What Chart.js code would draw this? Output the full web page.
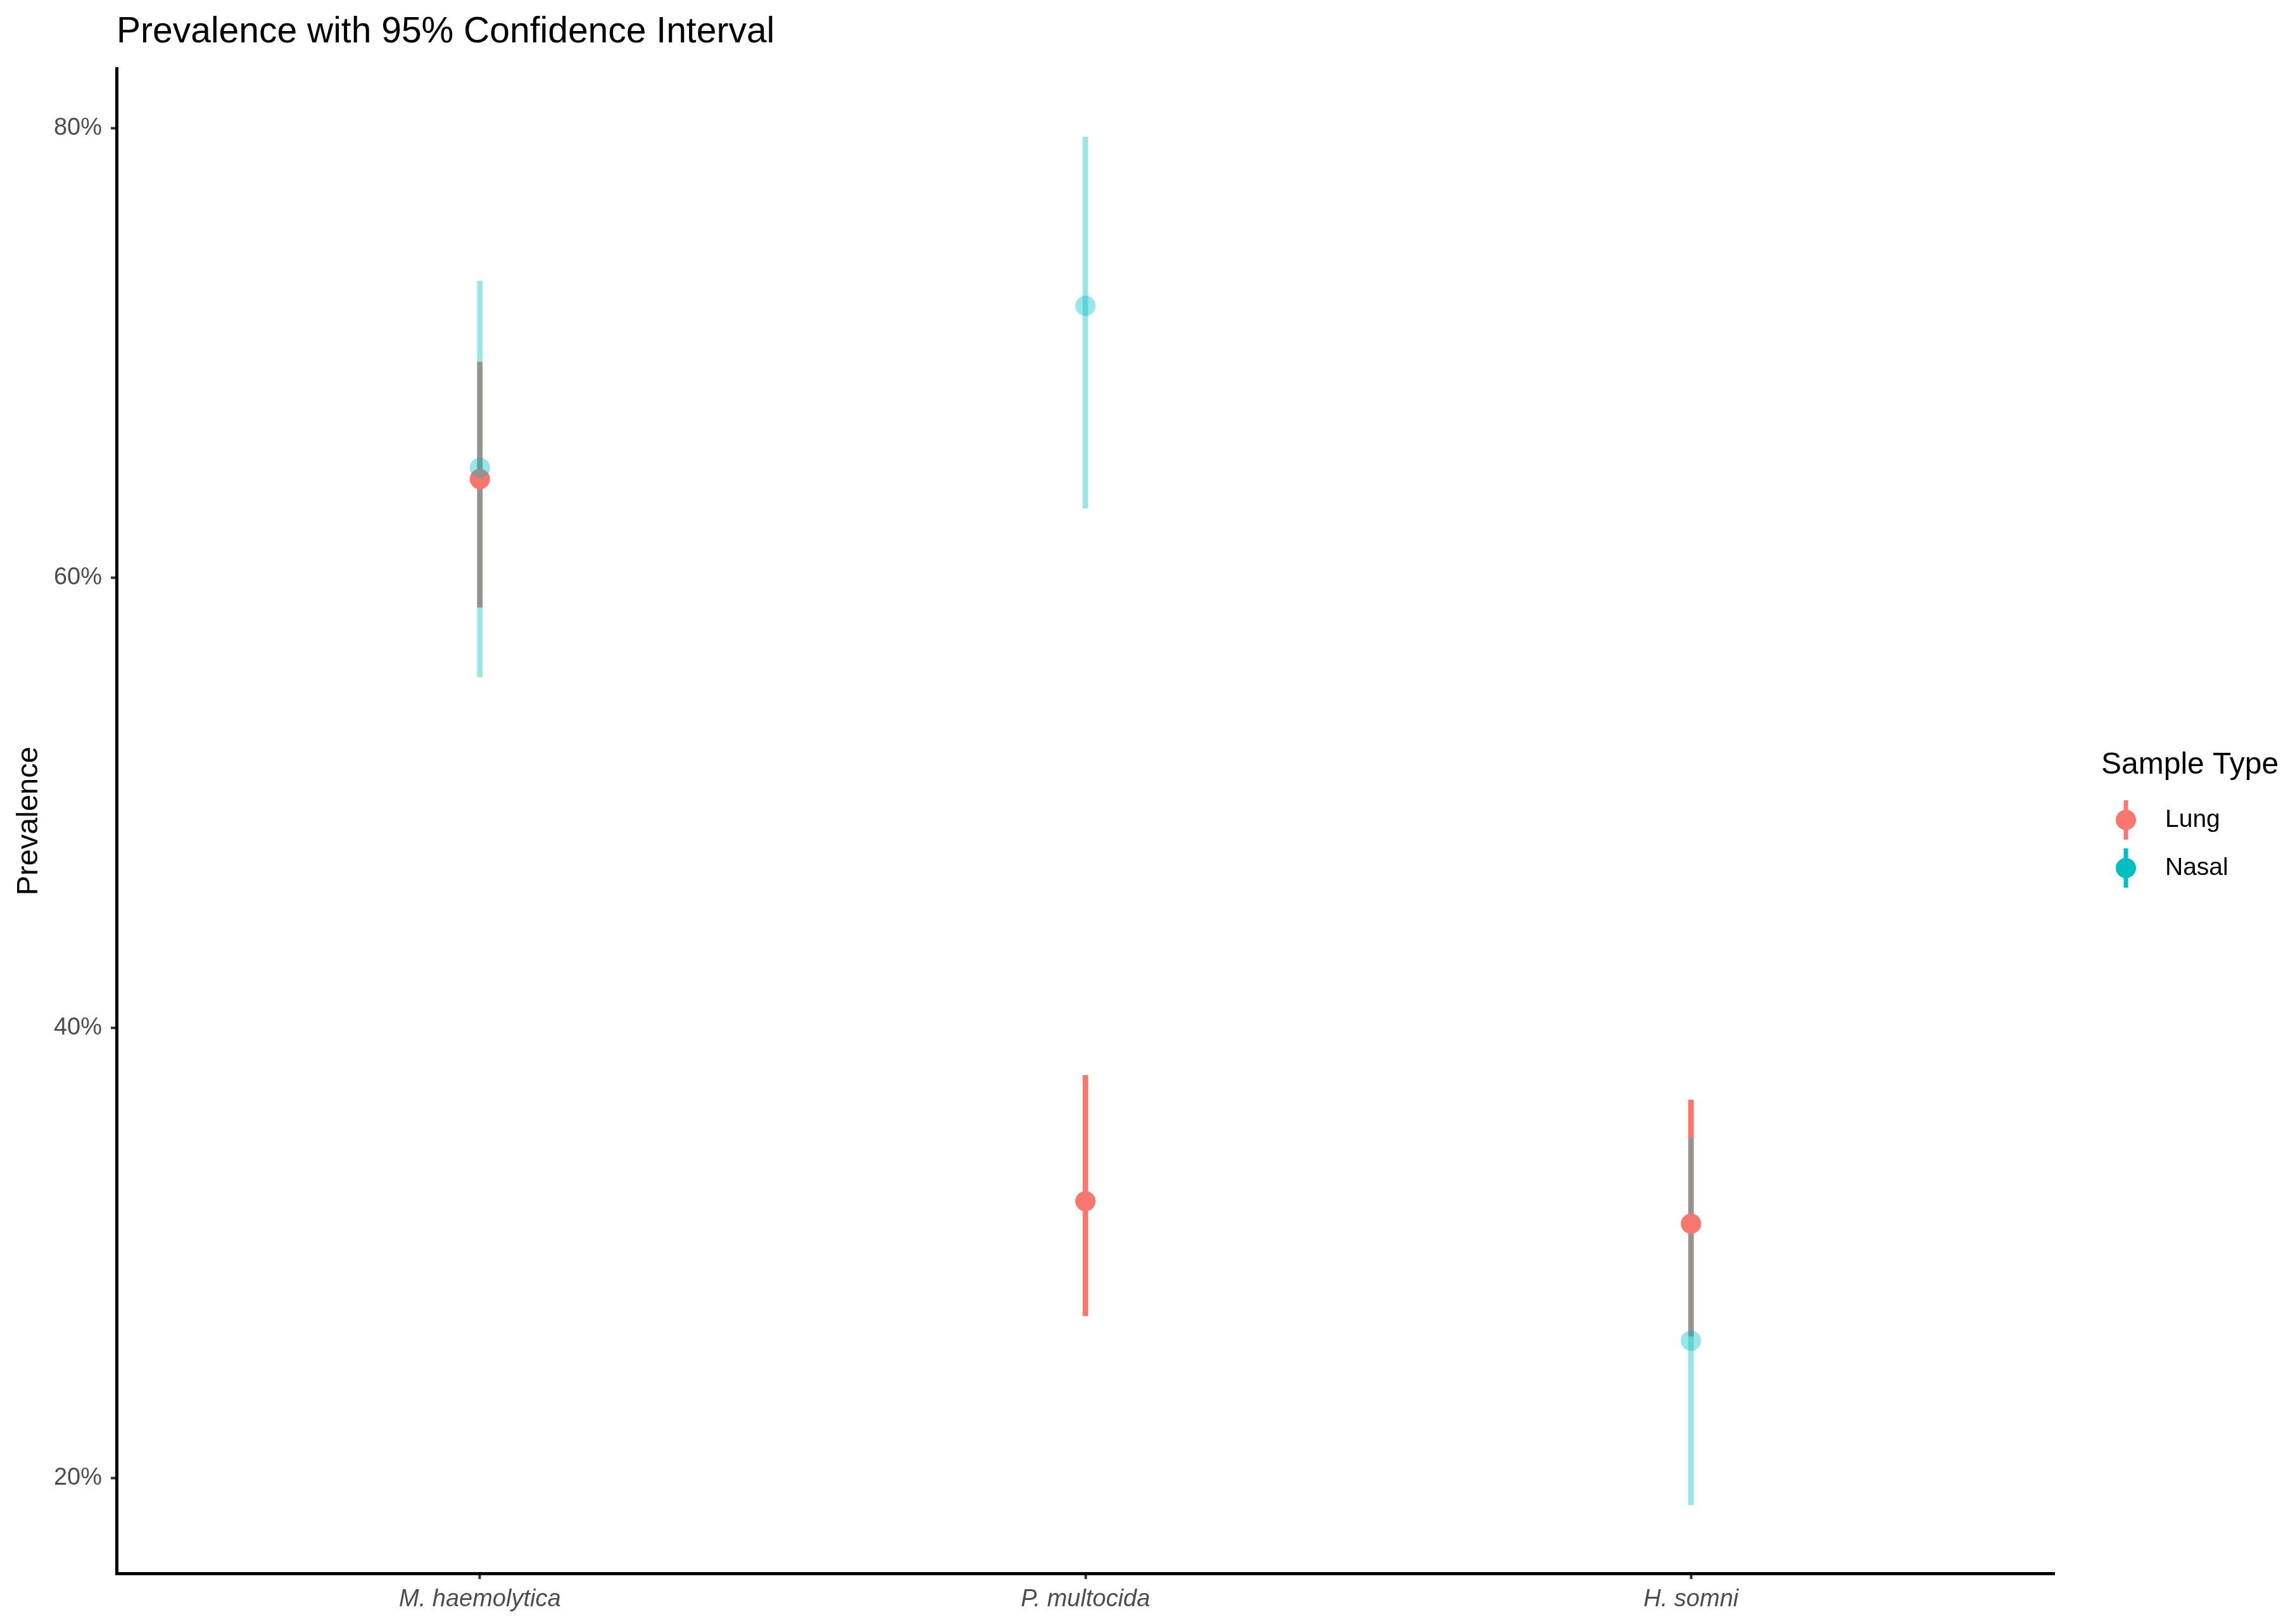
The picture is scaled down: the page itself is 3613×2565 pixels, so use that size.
<!DOCTYPE html>
<html>
<head>
<meta charset="utf-8">
<script src="https://cdn.jsdelivr.net/npm/chart.js@4/dist/chart.umd.min.js"></script>
<style>
html,body{margin:0;padding:0;background:#ffffff;}
canvas{display:block;}
</style>
</head>
<body>
<canvas id="c" width="3613" height="2565"></canvas>
<script>
// ---- data ----
const categories = ['M. haemolytica', 'P. multocida', 'H. somni'];
const xPositions = [1, 2, 3];
const seriesNames = ['Lung', 'Nasal'];
const lungPrev  = [64.4, 32.3, 31.3];
const lungLow   = [58.7, 27.2, 26.3];
const lungHigh  = [69.6, 37.9, 36.8];
const nasalPrev = [64.9, 72.1, 26.1];
const nasalLow  = [55.6, 63.1, 18.8];
const nasalHigh = [73.2, 79.6, 35.1];
const yTicks = [20, 40, 60, 80];
const chartTitle = 'Prevalence with 95% Confidence Interval';
const yTitle = 'Prevalence';
const legendTitle = 'Sample Type';

// ---- style ----
const FONT = "'Liberation Sans', Arial, Helvetica, sans-serif";
const LUNG = '#F8766D';
const NASAL = '#00BFC4';
const NASAL_A = 'rgba(0,191,196,0.4)';

// ggplot-like 5% expansion of the continuous axis
const allVals = lungLow.concat(lungHigh, nasalLow, nasalHigh, lungPrev, nasalPrev);
const dMin = Math.min.apply(null, allVals), dMax = Math.max.apply(null, allVals);
const yMin = dMin - 0.05 * (dMax - dMin);
const yMax = dMax + 0.05 * (dMax - dMin);
// discrete axis expansion of 0.6 units
const xMin = 1 - 0.6, xMax = categories.length + 0.6;

const ciData = (lo, hi) => xPositions.map((x, i) => ({x: x, y: [lo[i], hi[i]]}));
const ptData = (v) => xPositions.map((x, i) => ({x: x, y: v[i]}));

const legendPlugin = {
  id: 'ggLegend',
  afterDraw(chart) {
    const ctx = chart.ctx;
    ctx.save();
    ctx.fillStyle = '#000000';
    ctx.font = '48px ' + FONT;
    ctx.textAlign = 'left';
    ctx.textBaseline = 'middle';
    ctx.fillText(legendTitle, 3318, 1209);
    const colors = [LUNG, NASAL];
    const ys = [1295, 1371];
    for (let i = 0; i < seriesNames.length; i++) {
      const cx = 3357, cy = ys[i];
      ctx.strokeStyle = colors[i];
      ctx.lineWidth = 7;
      ctx.beginPath();
      ctx.moveTo(cx, cy - 31);
      ctx.lineTo(cx, cy + 31);
      ctx.stroke();
      ctx.fillStyle = colors[i];
      ctx.beginPath();
      ctx.arc(cx, cy, 16, 0, Math.PI * 2);
      ctx.fill();
      ctx.fillStyle = '#000000';
      ctx.font = '39px ' + FONT;
      ctx.fillText(seriesNames[i], 3419, cy);
    }
    ctx.restore();
  }
};

new Chart(document.getElementById('c'), {
  type: 'scatter',
  data: {
    datasets: [
      {type: 'bar', label: seriesNames[0] + ' CI', data: ciData(lungLow, lungHigh),
       backgroundColor: LUNG, borderWidth: 0, barThickness: 8, maxBarThickness: 8,
       grouped: false, order: 4},
      {type: 'bar', label: seriesNames[1] + ' CI', data: ciData(nasalLow, nasalHigh),
       backgroundColor: NASAL_A, borderWidth: 0, barThickness: 8, maxBarThickness: 8,
       grouped: false, order: 3},
      {type: 'scatter', label: seriesNames[0], data: ptData(lungPrev),
       pointRadius: 16, pointBackgroundColor: LUNG, pointBorderWidth: 0,
       pointBorderColor: 'rgba(0,0,0,0)', showLine: false, order: 2},
      {type: 'scatter', label: seriesNames[1], data: ptData(nasalPrev),
       pointRadius: 16, pointBackgroundColor: NASAL_A, pointBorderWidth: 0,
       pointBorderColor: 'rgba(0,0,0,0)', showLine: false, order: 1}
    ]
  },
  options: {
    responsive: false,
    animation: false,
    devicePixelRatio: 1,
    events: [],
    layout: {padding: {left: 0, right: 369, top: 0, bottom: 0}, autoPadding: false},
    plugins: {
      legend: {display: false},
      tooltip: {enabled: false},
      title: {
        display: true, text: chartTitle, align: 'start', fullSize: false,
        color: '#000000', font: {family: FONT, size: 57, weight: 'normal'},
        padding: {top: 17, bottom: 23}
      }
    },
    scales: {
      x: {
        type: 'linear', min: xMin, max: xMax, offset: false,
        afterBuildTicks: (s) => { s.ticks = xPositions.map(v => ({value: v})); },
        afterFit: (s) => { s.height = 80; },
        ticks: {
          callback: (v) => categories[v - 1],
          color: '#4D4D4D', padding: 10, maxRotation: 0, autoSkip: false,
          font: {family: FONT, size: 38, style: 'italic'}
        },
        grid: {display: true, drawOnChartArea: false, drawTicks: true, tickLength: 9,
               tickColor: '#333333', tickWidth: 4, offset: false},
        border: {display: true, color: '#000000', width: 5}
      },
      y: {
        type: 'linear', min: yMin, max: yMax,
        afterBuildTicks: (s) => { s.ticks = yTicks.map(v => ({value: v})); },
        afterFit: (s) => { s.width = 184; },
        ticks: {
          callback: (v) => v + '%',
          color: '#4D4D4D', padding: 14,
          font: {family: FONT, size: 38}
        },
        grid: {display: true, drawOnChartArea: false, drawTicks: true, tickLength: 9,
               tickColor: '#333333', tickWidth: 4},
        border: {display: true, color: '#000000', width: 5},
        title: {display: true, text: yTitle, color: '#000000',
                font: {family: FONT, size: 47}, padding: {top: 18, bottom: 0}}
      }
    }
  },
  plugins: [legendPlugin]
});
</script>
</body>
</html>
